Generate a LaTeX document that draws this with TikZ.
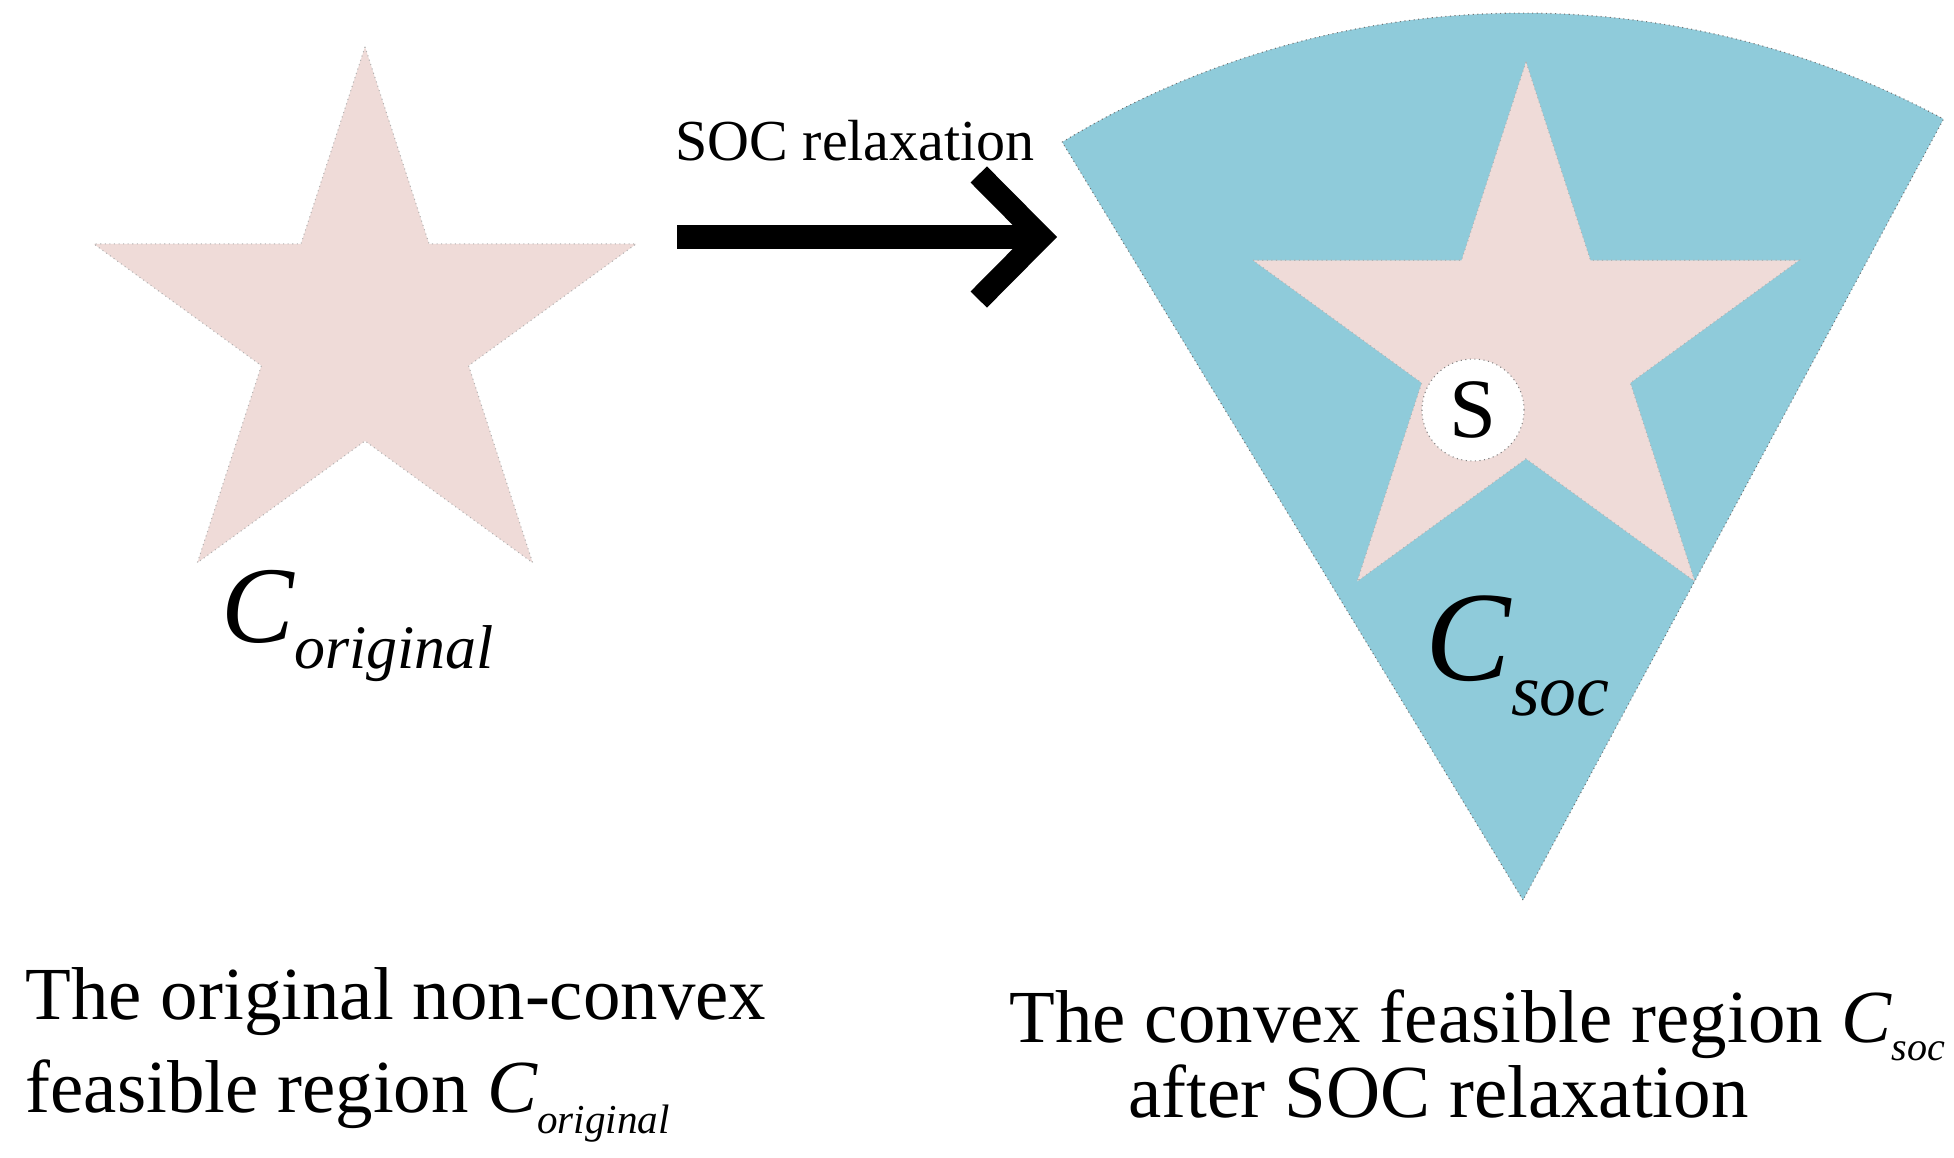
\documentclass[tikz,border=0pt]{standalone}
\usepackage{fontspec}
\setmainfont{Liberation Serif}
\usepackage{tikz}
\usetikzlibrary{shapes.geometric,arrows.meta}
\definecolor{starpink}{RGB}{239,219,216}
\definecolor{socblue}{RGB}{143,203,218}

\begin{document}
\begin{tikzpicture}[x=0.01cm,y=-0.01cm]
            \tikzstyle{every node}+=[inner sep=0pt]
            \tikzstyle{region star}=[star, star points=5, star point ratio=2.618, fill=starpink, draw=gray!60, densely dotted, line width=0.3pt]
            \tikzstyle{relax arrow}=[line width=0.23cm, -{Straight Barb[length=0.62cm, width=1.25cm, line width=0.23cm]}]
            \tikzstyle{caption}=[anchor=base west, font=\fontsize{21.3}{21.3}\selectfont]
            \useasboundingbox (0,0) rectangle (1954,1157);
            \draw (365,332) node [region star, minimum size=5.7cm] (origstar) {};
            \draw (221,642) node [anchor=base west] (corig) {{\fontsize{31}{31}\selectfont\itshape C}\raisebox{-0.26cm}{\fontsize{17.6}{17.6}\selectfont\itshape original}};
            \coordinate (relaxfrom) at (677,237);
            \coordinate (relaxto) at (1057,237);
            \draw [relax arrow] (relaxfrom) -- (relaxto);
            \draw (855,160) node [anchor=base, font=\fontsize{16.5}{16.5}\selectfont] (relaxlbl) {SOC relaxation};
            \filldraw [fill=socblue, draw=black!55, densely dotted, line width=0.3pt] (1523,900) -- +(-121.3:887) arc (-121.3:-61.7:887) -- cycle;
            \draw (1526,349) node [region star, minimum size=5.74cm] (socstar) {};
            \draw (1473,410) node [circle, fill=white, draw=gray, densely dotted, line width=0.3pt, minimum size=1.02cm, font=\fontsize{24}{24}\selectfont] (spoint) {S};
            \draw (1425,680) node [anchor=base west] (csoc) {{\fontsize{36.4}{36.4}\selectfont\itshape C}\raisebox{-0.35cm}{\fontsize{21}{21}\selectfont\itshape soc}};
            \draw (25,1019) node [caption] (origcap1) {The original non-convex};
            \draw (25,1112) node [caption] (origcap2) {feasible region {\itshape C}\raisebox{-0.21cm}{\fontsize{11.7}{11.7}\selectfont\itshape original}};
            \draw (1009,1042) node [caption] (soccap1) {The convex feasible region {\itshape C}\raisebox{-0.18cm}{\fontsize{11.4}{11.4}\selectfont\itshape soc}};
            \draw (1128,1117) node [caption] (soccap2) {after SOC relaxation};
        \end{tikzpicture}
\end{document}
